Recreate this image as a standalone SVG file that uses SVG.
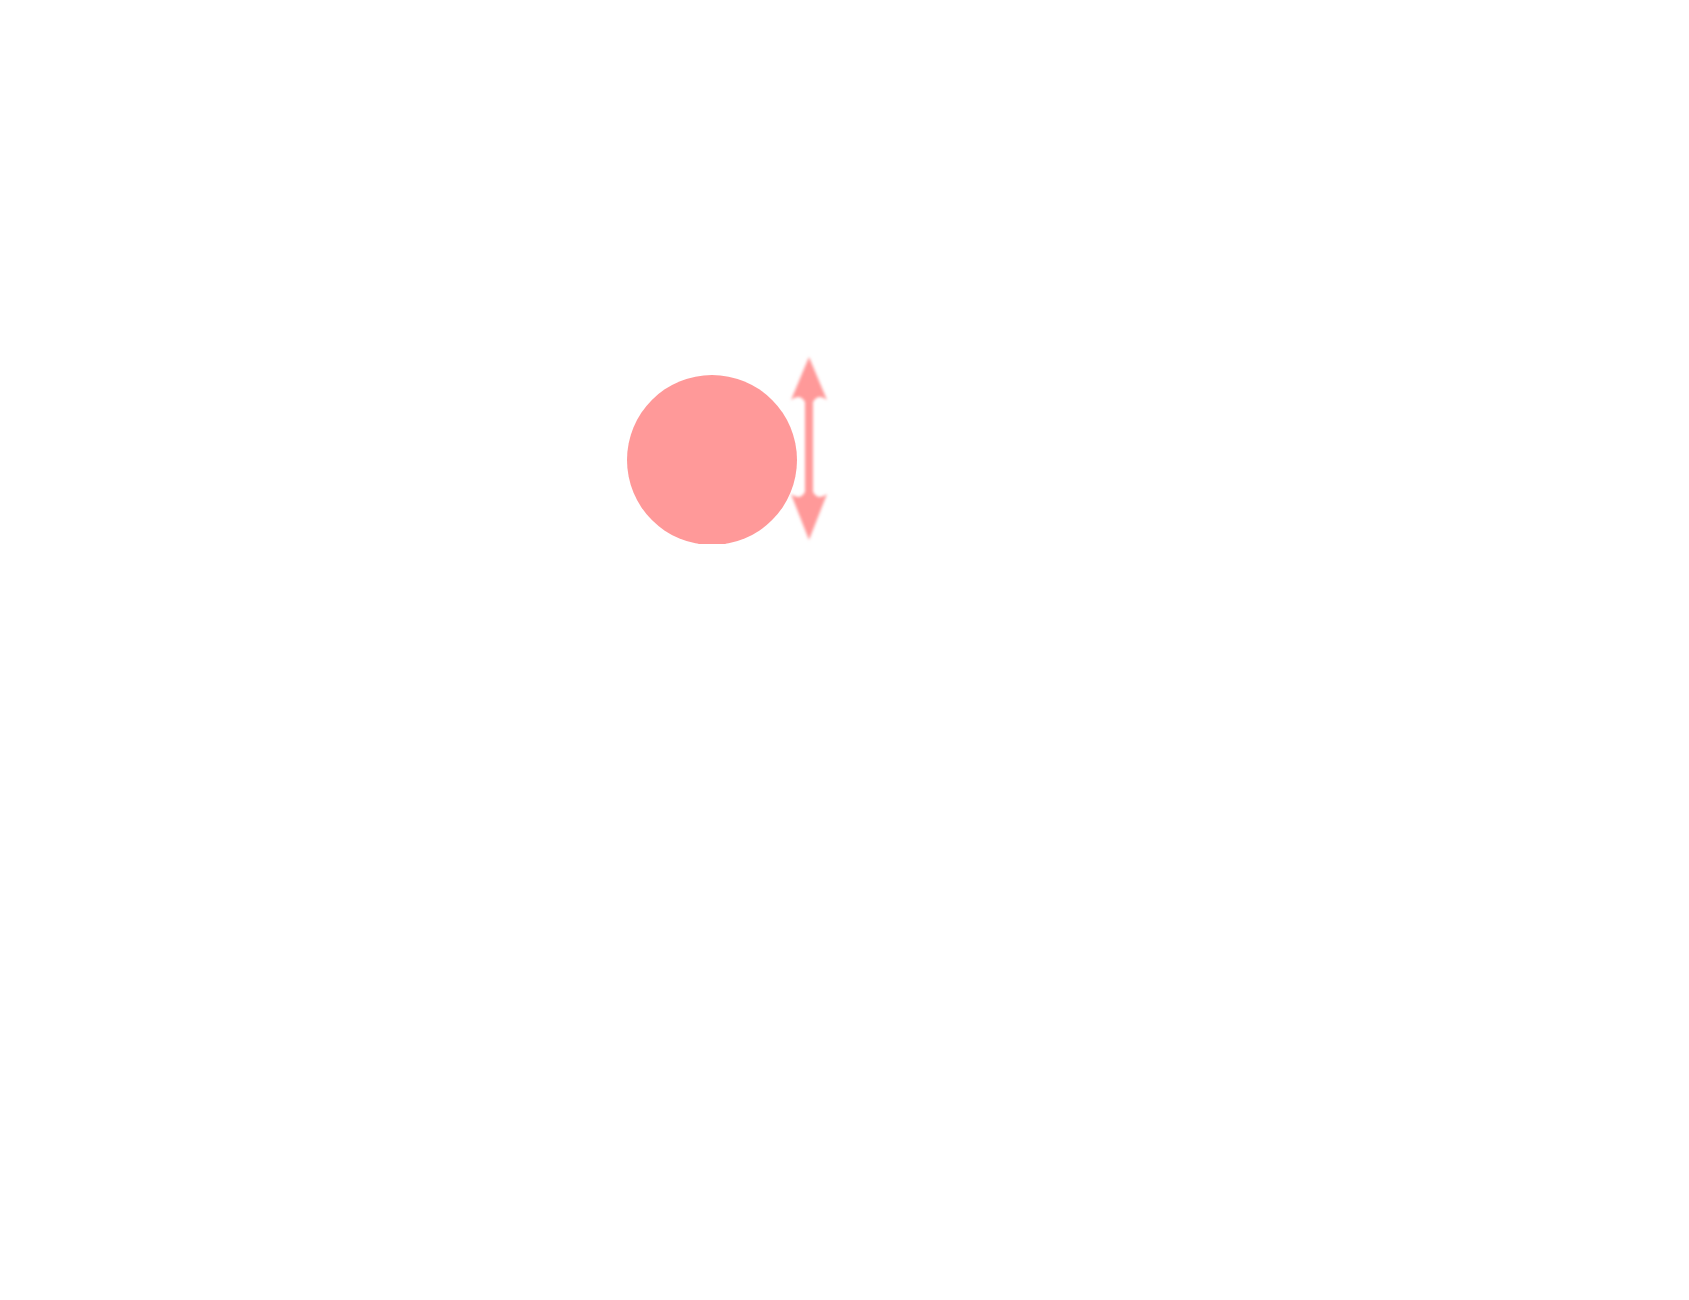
<svg xmlns="http://www.w3.org/2000/svg" width="1689" height="1300" viewBox="0 0 1689 1300">
<defs>
<filter id="blur" x="-50%" y="-10%" width="200%" height="120%"><feGaussianBlur stdDeviation="1.8"/></filter>
<clipPath id="cut"><rect x="600" y="360" width="230" height="184"/></clipPath>
</defs>
<style>.pink{fill:#ff9999}</style>
<rect width="1689" height="1300" fill="#ffffff"/>
<g id="ball">
<circle class="pink" cx="712" cy="460" r="85" clip-path="url(#cut)"/>
</g>
<g id="connectors">
<path class="pink" filter="url(#blur)" d="M809,357 L827,400 Q818,393 813,402 L813,492 Q818,501 827,494 L809,540 L791,494 Q800,501 805,492 L805,402 Q800,393 791,400 Z"/>
</g>
</svg>
